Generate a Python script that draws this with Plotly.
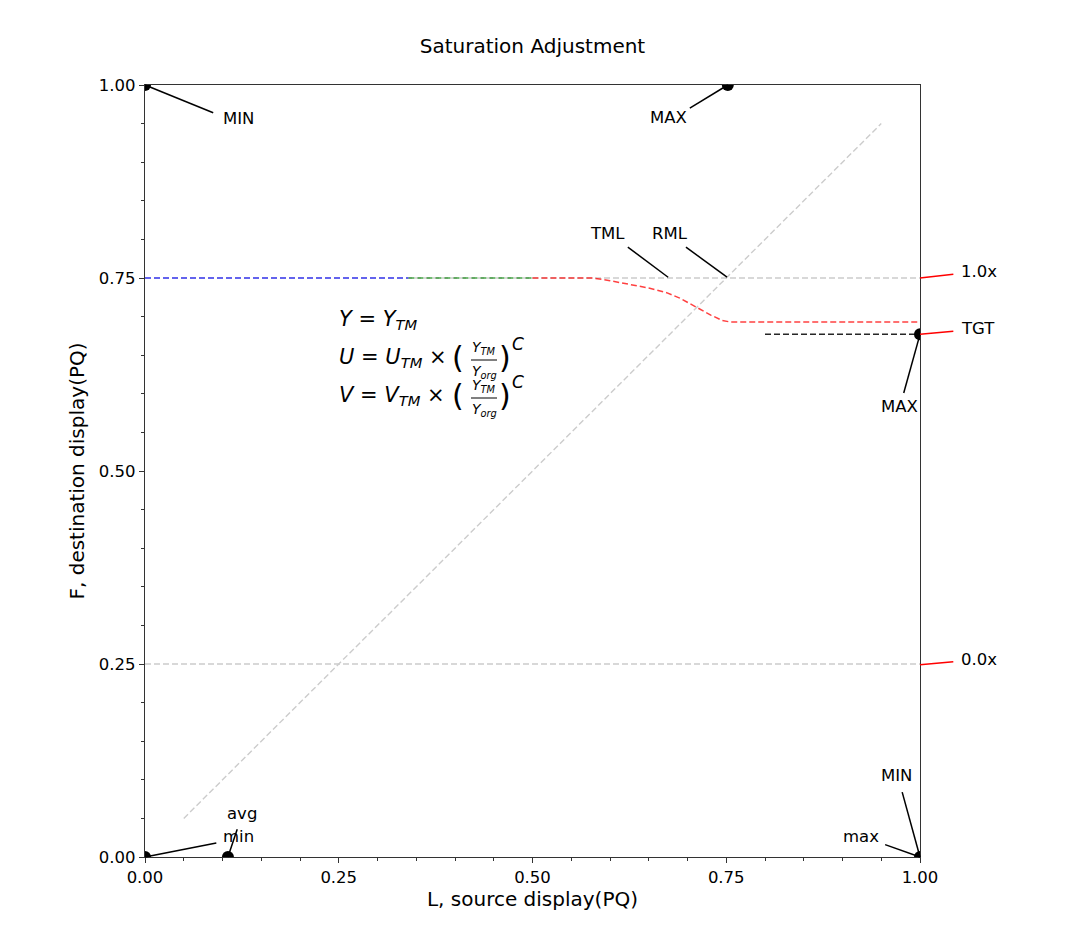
import plotly.graph_objects as go

# ---------------- data ----------------
x_ticks = [0.0, 0.25, 0.5, 0.75, 1.0]
y_ticks = [0.0, 0.25, 0.5, 0.75, 1.0]

ref_h_y = [0.75, 0.25]                 # gray horizontal reference levels
diag_x = [0.05, 0.95]
diag_y = [0.05, 0.95]

blue_x = [0.0, 0.34]
blue_y = [0.75, 0.75]
green_x = [0.34, 0.5]
green_y = [0.75, 0.75]
red_x = [0.5, 0.578, 0.60, 0.625, 0.65, 0.673, 0.69, 0.71, 0.73, 0.745, 0.755, 1.0]
red_y = [0.75, 0.75, 0.7465, 0.742, 0.737, 0.731, 0.724, 0.713, 0.702, 0.695, 0.693, 0.693]
tgt_x = [0.80, 1.0]
tgt_y = [0.677, 0.677]

dot_x = [0.0, 0.752, 1.0, 0.0, 0.107, 1.0]
dot_y = [1.0, 1.0, 0.677, 0.0, 0.0, 0.0]

# labels: text, point(x,y), text centre(x,y), line end near text(x,y)
labels = [
    ("MIN", (0.0, 1.0), (0.120, 0.957), (0.088, 0.964)),
    ("MAX", (0.752, 1.0), (0.676, 0.958), (0.703, 0.970)),
    ("TML", (0.675, 0.751), (0.597, 0.808), (0.623, 0.790)),
    ("RML", (0.751, 0.751), (0.677, 0.808), (0.698, 0.790)),
    ("MAX", (1.0, 0.677), (0.974, 0.584), (0.979, 0.601)),
    ("MIN", (1.0, 0.0), (0.970, 0.106), (0.977, 0.084)),
    ("max", (1.0, 0.0), (0.924, 0.027), (0.955, 0.016)),
    ("min", (0.0, 0.0), (0.121, 0.027), (0.092, 0.018)),
    ("avg", (0.107, 0.0), (0.125, 0.056), (0.119, 0.036)),
]

# right side markers: text, start(x,y), end(x,y)
side_labels = [
    ("1.0x", (1.0, 0.750), (1.043, 0.755)),
    ("TGT", (1.0, 0.677), (1.043, 0.681)),
    ("0.0x", (1.0, 0.249), (1.043, 0.253)),
]

FONT = "DejaVu Sans, Liberation Sans, sans-serif"
GRAY = "#cccccc"
DASH = "6px,3px"
FS = 16.5

fig = go.Figure()

for yv in ref_h_y:
    fig.add_trace(go.Scatter(x=[0, 1], y=[yv, yv], mode="lines",
                             line=dict(color=GRAY, width=1.4, dash=DASH)))
fig.add_trace(go.Scatter(x=diag_x, y=diag_y, mode="lines",
                         line=dict(color=GRAY, width=1.4, dash=DASH)))

fig.add_trace(go.Scatter(x=blue_x, y=blue_y, mode="lines",
                         line=dict(color="rgba(0,0,255,0.72)", width=1.5, dash=DASH)))
fig.add_trace(go.Scatter(x=green_x, y=green_y, mode="lines",
                         line=dict(color="rgba(0,128,0,0.72)", width=1.5, dash=DASH)))
fig.add_trace(go.Scatter(x=red_x, y=red_y, mode="lines",
                         line=dict(color="rgba(255,0,0,0.75)", width=1.5, dash=DASH)))
fig.add_trace(go.Scatter(x=tgt_x, y=tgt_y, mode="lines",
                         line=dict(color="rgba(0,0,0,0.85)", width=1.5, dash=DASH)))

fig.add_trace(go.Scatter(x=dot_x, y=dot_y, mode="markers", cliponaxis=True,
                         marker=dict(color="black", size=12)))

shapes = []
annotations = []
for txt_, (px_, py_), (tx, ty), (lx, ly) in labels:
    shapes.append(dict(type="line", xref="paper", yref="paper",
                       x0=px_, y0=py_, x1=lx, y1=ly,
                       line=dict(color="black", width=1.5)))
    annotations.append(dict(text=txt_, x=tx, y=ty, xref="paper", yref="paper",
                            showarrow=False, xanchor="center", yanchor="middle",
                            font=dict(family=FONT, size=FS, color="black")))

for txt_, (x0, y0), (x1, y1) in side_labels:
    shapes.append(dict(type="line", xref="paper", yref="paper",
                       x0=x0, y0=y0, x1=x1, y1=y1,
                       line=dict(color="red", width=1.5)))
    annotations.append(dict(text=txt_, x=1.05, y=y1 + 0.003, xref="paper", yref="paper",
                            showarrow=False, xanchor="left", yanchor="middle",
                            font=dict(family=FONT, size=FS, color="black")))

# ---------------- formula (pixel layout helpers) ----------------
def PX(p):
    return (p - 145) / 775.0

def PY(p):
    return (857 - p) / 772.0

def txt(s, x, y, size, xanchor="left"):
    annotations.append(dict(text=s, x=PX(x), y=PY(y), xref="paper", yref="paper",
                            showarrow=False, xanchor=xanchor, yanchor="middle",
                            font=dict(family=FONT, size=size, color="black")))

TM = "<sub><i>TM</i></sub>"
txt("<i>Y</i> = <i>Y</i>" + TM, 337, 320, 21)
for letter, yc in (("U", 355), ("V", 393)):
    txt("<i>%s</i> = <i>%s</i>%s ×" % (letter, letter, TM), 337, yc + 3, 21)
    txt("(", 458, yc + 2, 30, "center")
    txt(")", 505, yc + 2, 30, "center")
    txt("<i>Y</i>" + TM, 484, yc - 7, 14, "center")
    txt("<i>Y</i><sub><i>org</i></sub>", 484, yc + 17, 14, "center")
    shapes.append(dict(type="line", xref="paper", yref="paper",
                       x0=PX(471), x1=PX(497), y0=PY(yc + 5), y1=PY(yc + 5),
                       line=dict(color="black", width=1)))
    txt("<i>C</i>", 518, yc - 11, 17, "center")

fig.update_layout(
    width=1080, height=942,
    margin=dict(l=145, r=160, t=85, b=85),
    paper_bgcolor="white", plot_bgcolor="white",
    showlegend=False, hovermode=False,
    font=dict(family=FONT, size=FS, color="black"),
    title=dict(text="Saturation Adjustment", x=532.5 / 1080, xanchor="center",
               y=1 - 46 / 942, yanchor="middle", yref="container",
               font=dict(family=FONT, size=20, color="black")),
    shapes=shapes, annotations=annotations,
)

axis_common = dict(
    range=[0, 1], showgrid=False, zeroline=False,
    showline=True, linecolor="#333333", linewidth=1.2, mirror=True,
    ticks="outside", ticklen=5, tickwidth=1, tickcolor="#333333",
    tickformat=".2f", tickfont=dict(family=FONT, size=FS, color="black"),
    minor=dict(dtick=0.05, ticks="outside", ticklen=3, tickcolor="#333333", showgrid=False),
)
fig.update_xaxes(**axis_common, tickvals=x_ticks,
                 title=dict(text="L, source display(PQ)", standoff=5,
                            font=dict(family=FONT, size=20, color="black")))
fig.update_yaxes(**axis_common, tickvals=y_ticks,
                 title=dict(text="F, destination display(PQ)", standoff=8,
                            font=dict(family=FONT, size=20, color="black")))

fig.write_html("out.html")
